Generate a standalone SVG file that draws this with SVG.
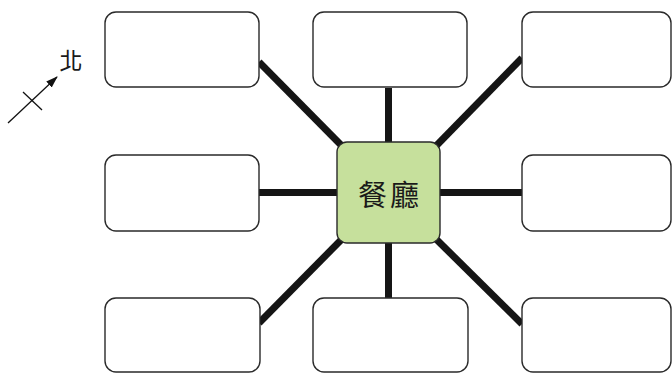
<svg xmlns="http://www.w3.org/2000/svg" width="672" height="373" viewBox="0 0 672 373">
<style>
.box{fill:#ffffff;stroke:#2a2a2a;stroke-width:1.4}
.center{fill:#c6e09c;stroke:#2a2a2a;stroke-width:1.4}
.conn{stroke:#151515;stroke-width:7;stroke-linecap:butt;fill:none}
.lbl{font-family:"Noto Sans CJK TC","Noto Sans CJK SC",sans-serif;fill:#1a1a1a}
</style>
<defs>
<marker id="arr" viewBox="0 0 12 10" refX="11" refY="5" markerWidth="12" markerHeight="10" markerUnits="userSpaceOnUse" orient="auto">
<path d="M0,1 L12,5 L0,9 Z" fill="#111"/>
</marker>
</defs>
<rect width="672" height="373" fill="#ffffff"/>
<g id="connectors">
<line class="conn" x1="388.5" y1="88" x2="388.5" y2="142"/>
<line class="conn" x1="388.5" y1="243" x2="388.5" y2="298"/>
<line class="conn" x1="259" y1="192.5" x2="337" y2="192.5"/>
<line class="conn" x1="440" y1="192.5" x2="522" y2="192.5"/>
<line class="conn" x1="259" y1="62" x2="342" y2="146"/>
<line class="conn" x1="436" y1="146" x2="522" y2="58"/>
<line class="conn" x1="342" y1="239" x2="259" y2="323"/>
<line class="conn" x1="436" y1="239" x2="522" y2="324"/>
</g>
<g id="north">
<line x1="8" y1="123" x2="57" y2="77" stroke="#111" stroke-width="1.3" marker-end="url(#arr)"/>
<line x1="23" y1="92" x2="42" y2="110" stroke="#111" stroke-width="1.3"/>
<text class="lbl" x="71" y="59" font-size="23" text-anchor="middle" dominant-baseline="central">北</text>
</g>
<g id="node-tl"><rect class="box" x="105" y="12" width="154" height="75" rx="11"/></g>
<g id="node-tm"><rect class="box" x="313" y="12" width="154" height="75" rx="11"/></g>
<g id="node-tr"><rect class="box" x="522" y="12" width="149" height="75" rx="11"/></g>
<g id="node-ml"><rect class="box" x="105" y="155" width="154" height="76" rx="11"/></g>
<g id="node-mr"><rect class="box" x="522" y="155" width="149" height="76" rx="11"/></g>
<g id="node-bl"><rect class="box" x="105" y="298" width="155" height="74" rx="11"/></g>
<g id="node-bm"><rect class="box" x="313" y="298" width="155" height="74" rx="11"/></g>
<g id="node-br"><rect class="box" x="522" y="298" width="149" height="74" rx="11"/></g>
<g id="node-center">
<rect class="center" x="337" y="142" width="103" height="101" rx="10"/>
<text class="lbl" x="390" y="193" font-size="29" text-anchor="middle" dominant-baseline="central" letter-spacing="3">餐廳</text>
</g>
</svg>
